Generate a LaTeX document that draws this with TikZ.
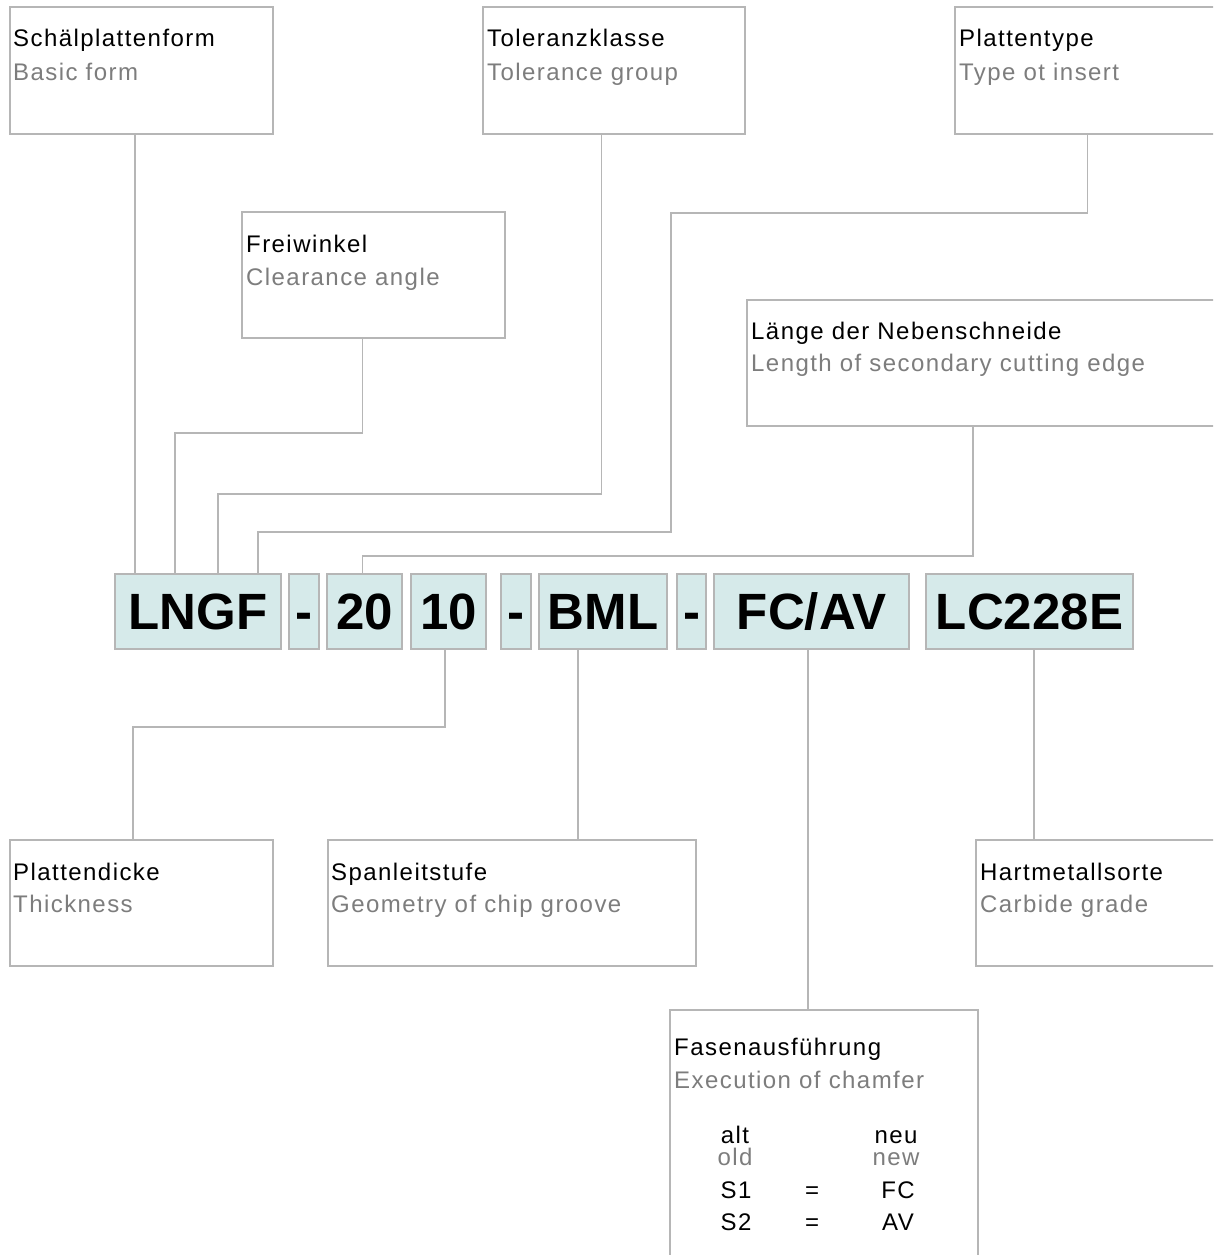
\documentclass[tikz,border=0pt]{standalone}
\usepackage{fontspec}
\setmainfont{Liberation Sans}
\definecolor{lgrey}{RGB}{182,182,182}
\definecolor{engrey}{RGB}{125,125,125}
\definecolor{codefill}{RGB}{214,234,234}
\newcommand\lblfont{\fontsize{24}{28}\selectfont\addfontfeature{LetterSpace=6}}
\newcommand\codefont{\fontsize{51}{60}\selectfont\bfseries}
\tikzset{
  gline/.style={draw=lgrey, line width=1.7pt},
  infobox/.style={draw=lgrey, line width=1.7pt, rectangle, anchor=north west, inner sep=0pt, outer sep=0pt},
  codebox/.style={draw=lgrey, line width=1.7pt, fill=codefill, rectangle, anchor=north west, inner sep=0pt, outer sep=0pt, minimum height=75pt, text height=36.5pt, text depth=0pt, font=\codefont},
  de/.style={anchor=base west, inner sep=0pt, font=\lblfont, text=black},
  en/.style={anchor=base west, inner sep=0pt, font=\lblfont, text=engrey},
  tb/.style={anchor=base, inner sep=0pt, font=\lblfont, text=black},
  tbg/.style={anchor=base, inner sep=0pt, font=\lblfont, text=engrey},
}
\begin{document}
\begin{tikzpicture}[x=1pt,y=-1pt]
\clip (0,0) rectangle (1213,1255);
\fill[white] (0,0) rectangle (1213,1255);

% info boxes
\node[infobox, minimum width=263pt, minimum height=127pt] (b1) at (10,7) {};
\node[infobox, minimum width=263pt, minimum height=126pt] (b2) at (242,212) {};
\node[infobox, minimum width=262pt, minimum height=127pt] (b3) at (483,7) {};
\node[infobox, minimum width=300pt, minimum height=127pt] (b4) at (955,7) {};
\node[infobox, minimum width=500pt, minimum height=126pt] (b5) at (747,300) {};
\node[infobox, minimum width=263pt, minimum height=126pt] (b6) at (10,840) {};
\node[infobox, minimum width=368pt, minimum height=126pt] (b7) at (328,840) {};
\node[infobox, minimum width=300pt, minimum height=126pt] (b8) at (976,840) {};
\node[infobox, minimum width=308pt, minimum height=300pt] (b9) at (670,1010) {};

% texts
\node[de] (t1a) at (13,47) {Schälplattenform};
\node[en] (t1b) at (13,81) {Basic form};
\node[de] (t2a) at (246,252) {Freiwinkel};
\node[en] (t2b) at (246,285) {Clearance angle};
\node[de] (t3a) at (487,47) {Toleranzklasse};
\node[en] (t3b) at (487,81) {Tolerance group};
\node[de] (t4a) at (959,47) {Plattentype};
\node[en] (t4b) at (959,81) {Type ot insert};
\node[de] (t5a) at (751,339) {Länge der Nebenschneide};
\node[en] (t5b) at (751,371) {Length of secondary cutting edge};
\node[de] (t6a) at (13,880) {Plattendicke};
\node[en] (t6b) at (13,912) {Thickness};
\node[de] (t7a) at (331,880) {Spanleitstufe};
\node[en] (t7b) at (331,912) {Geometry of chip groove};
\node[de] (t8a) at (980,880) {Hartmetallsorte};
\node[en] (t8b) at (980,912) {Carbide grade};
\node[de] (t9a) at (674,1055) {Fasenausführung};
\node[en] (t9b) at (674,1088) {Execution of chamfer};

\node[tb] (alt) at (735,1143) {alt};
\node[tbg] (old) at (735,1165) {old};
\node[tb] (neu) at (896,1143) {neu};
\node[tbg] (new) at (896,1165) {new};
\node[tb] (s1) at (736,1198) {S1};
\node[tb] (eq1) at (812,1198) {=};
\node[tb] (fc) at (898,1198) {FC};
\node[tb] (s2) at (736,1230) {S2};
\node[tb] (eq2) at (812,1230) {=};
\node[tb] (av) at (898,1230) {AV};

% code boxes
\node[codebox, minimum width=166pt] (c1) at (115,574) {LNGF};
\node[codebox, minimum width=30pt] (d1) at (289,574) {-};
\node[codebox, minimum width=75pt] (c2) at (327,574) {20};
\node[codebox, minimum width=75pt] (c3) at (411,574) {10};
\node[codebox, minimum width=30pt] (d2) at (501,574) {-};
\node[codebox, minimum width=128pt] (c4) at (539,574) {BML};
\node[codebox, minimum width=29pt] (d3) at (677,574) {-};
\node[codebox, minimum width=195pt] (c5) at (714,574) {FC/AV};
\node[codebox, minimum width=207pt] (c6) at (926,574) {LC228E};

% connector coordinates
\coordinate (k1) at (135,0);
\coordinate (k2a) at (362.5,0);
\coordinate (k2) at (175,433);
\coordinate (k3a) at (601.5,0);
\coordinate (k3) at (218,494);
\coordinate (k4a) at (1087.5,0);
\coordinate (k4) at (671,213);
\coordinate (k4b) at (258,532);
\coordinate (k5a) at (973,0);
\coordinate (k5) at (362.5,556);
\coordinate (k6a) at (445,0);
\coordinate (k6) at (133,727);
\coordinate (k7) at (578,0);
\coordinate (k8) at (1034,0);
\coordinate (k9) at (808,0);

% connectors
\draw[gline] (b1.south -| k1) -- (c1.north -| k1);
\draw[gline] (b2.south -| k2a) |- (k2) -- (k2 |- c1.north);
\draw[gline] (b3.south -| k3a) |- (k3) -- (k3 |- c1.north);
\draw[gline] (b4.south -| k4a) |- (k4) |- (k4b) -- (k4b |- c1.north);
\draw[gline] (b5.south -| k5a) |- (k5) -- (k5 |- c2.north);
\draw[gline] (c3.south -| k6a) |- (k6) -- (k6 |- b6.north);
\draw[gline] (c4.south -| k7) -- (b7.north -| k7);
\draw[gline] (c5.south -| k9) -- (b9.north -| k9);
\draw[gline] (c6.south -| k8) -- (b8.north -| k8);
\end{tikzpicture}
\end{document}
